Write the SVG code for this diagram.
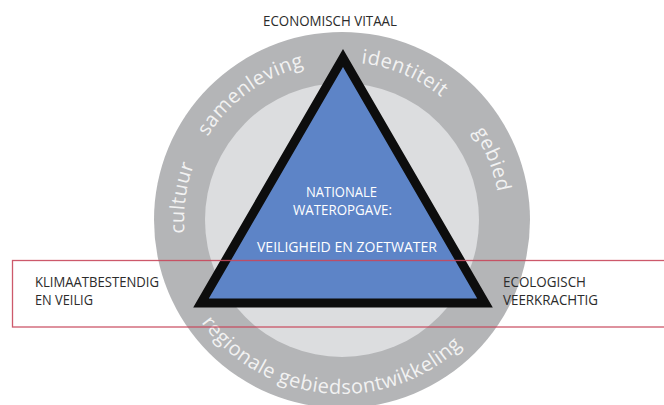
<svg xmlns="http://www.w3.org/2000/svg" width="664" height="405" viewBox="0 0 664 405">
  <style>
    .lbl { font-family: "Open Sans", "Liberation Sans", sans-serif; font-size: 14.3px; fill: #2b2b2b; }
    .mid { font-family: "Open Sans", "Liberation Sans", sans-serif; font-size: 14.3px; fill: #ffffff; }
    .ring { font-family: "Open Sans", "Liberation Sans", sans-serif; font-size: 20px; fill: #f2f2f2; letter-spacing: 0.5px; }
  </style>
  <defs>
    <path id="topArc" d="M 342,378 A 158 158 0 1 1 342,62 A 158 158 0 1 1 342,378"/>
    <path id="botArc" d="M 342,46 A 174 174 0 1 0 342,394 A 174 174 0 1 0 342,46"/>
  </defs>
  <rect width="664" height="405" fill="#ffffff"/>
  <g id="ring">
    <circle cx="342" cy="220" r="188" fill="#b4b5b7"/>
    <circle cx="342" cy="220" r="137" fill="#dcdddf"/>
    <text class="ring"><textPath href="#topArc" startOffset="27.2%" text-anchor="middle">cultuur</textPath></text>
    <text class="ring"><textPath href="#topArc" startOffset="40%" text-anchor="middle">samenleving</textPath></text>
    <text class="ring"><textPath href="#topArc" startOffset="56.4%" text-anchor="middle">identiteit</textPath></text>
    <text class="ring"><textPath href="#topArc" startOffset="68.9%" text-anchor="middle">gebied</textPath></text>
    <text class="ring"><textPath href="#botArc" startOffset="48.6%" text-anchor="middle">regionale gebiedsontwikkeling</textPath></text>
  </g>
  <g id="triangle">
    <polygon points="343,58 201,303 485,303" fill="#5d84c7" stroke="#0d0d0d" stroke-width="9" stroke-linejoin="miter"/>
    <text class="mid" x="306" y="197" textLength="71" lengthAdjust="spacingAndGlyphs">NATIONALE</text>
    <text class="mid" x="293" y="215" textLength="99" lengthAdjust="spacingAndGlyphs">WATEROPGAVE:</text>
    <text class="mid" x="257" y="252" textLength="180" lengthAdjust="spacingAndGlyphs">VEILIGHEID EN ZOETWATER</text>
  </g>
  <g id="top-label">
    <text class="lbl" x="263" y="26" textLength="134" lengthAdjust="spacingAndGlyphs">ECONOMISCH VITAAL</text>
  </g>
  <g id="band">
    <rect x="12.5" y="260.5" width="660" height="66.5" fill="none" stroke="#c8475b" stroke-width="1.3" opacity="0.9"/>
  </g>
  <g id="left-label">
    <text class="lbl" x="35" y="287" textLength="124" lengthAdjust="spacingAndGlyphs">KLIMAATBESTENDIG</text>
    <text class="lbl" x="35" y="305" textLength="58" lengthAdjust="spacingAndGlyphs">EN VEILIG</text>
  </g>
  <g id="right-label">
    <text class="lbl" x="503" y="287" textLength="83" lengthAdjust="spacingAndGlyphs">ECOLOGISCH</text>
    <text class="lbl" x="503" y="305" textLength="95" lengthAdjust="spacingAndGlyphs">VEERKRACHTIG</text>
  </g>
</svg>
